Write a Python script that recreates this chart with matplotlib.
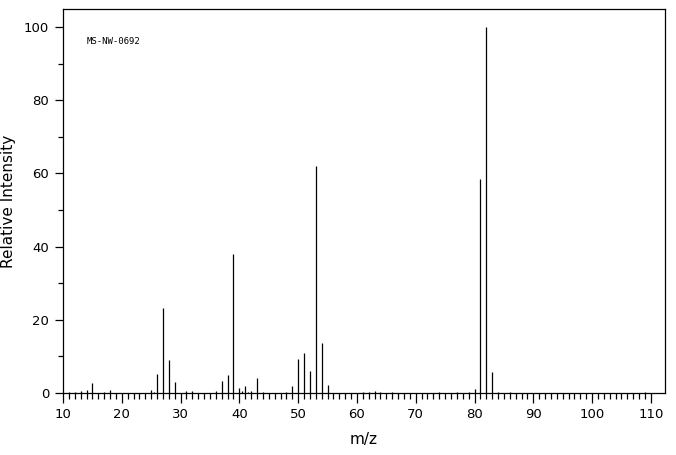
import numpy as np
import matplotlib
matplotlib.use('Agg')
from matplotlib import pyplot as plt
from matplotlib.ticker import MultipleLocator, FixedLocator

# mass spectrum (m/z, relative intensity)
mz = [11, 12, 13, 14, 15, 17, 18,
      25, 25.5, 26, 27, 28, 29, 31, 32,
      36, 37, 38, 39, 40, 40.5, 41, 41.5, 42, 43, 44,
      48, 49, 50, 51, 52, 53, 54, 55,
      61, 62, 63, 64, 66, 74, 77, 79,
      80, 81, 82, 83, 84, 86, 109]
intensity = [0.3, 0.4, 0.6, 0.9, 2.8, 0.4, 0.9,
             0.9, 0.4, 5.3, 23.3, 9.1, 3.1, 0.5, 0.5,
             0.5, 3.4, 5.0, 38.1, 1.5, 0.6, 2.0, 0.4, 0.6, 4.2, 0.4,
             0.4, 1.9, 9.3, 11.0, 6.0, 61.9, 13.7, 2.2,
             0.3, 0.3, 0.6, 0.3, 0.3, 0.3, 0.3, 0.4,
             1.1, 58.5, 100.0, 5.8, 0.3, 0.3, 0.3]
sample_id = 'MS-NW-0692'

fig = plt.figure(figsize=(6.76, 4.55), dpi=100)
ax = fig.add_axes([63/676, 1 - 393/455, 602/676, 384/455])

ax.vlines(mz, 0, intensity, colors='k', linewidth=0.9)

ax.set_xlim(10, 112.4)
ax.set_ylim(0, 104.9)
ax.xaxis.set_major_locator(FixedLocator(np.arange(10, 111, 10)))
ax.xaxis.set_minor_locator(FixedLocator(np.arange(10, 111, 1)))
ax.yaxis.set_major_locator(MultipleLocator(20))
ax.yaxis.set_minor_locator(MultipleLocator(10))
ax.tick_params(axis='x', which='major', length=7.5, width=0.9, labelsize=9.5, pad=3)
ax.tick_params(axis='x', which='minor', length=4.5, width=0.9)
ax.tick_params(axis='y', which='major', length=6, width=0.9, labelsize=9.5, pad=4)
ax.tick_params(axis='y', which='minor', length=3.6, width=0.9)
for s in ax.spines.values():
    s.set_linewidth(0.9)

ax.set_xlabel('m/z', fontsize=11, labelpad=8)
ax.set_ylabel('Relative Intensity', fontsize=11, labelpad=6)
ax.text(87/676, 1 - 41/455, sample_id, transform=fig.transFigure,
        family='DejaVu Sans Mono', fontsize=6.5, va='center', ha='left')

fig.savefig('out.png', dpi=100)
